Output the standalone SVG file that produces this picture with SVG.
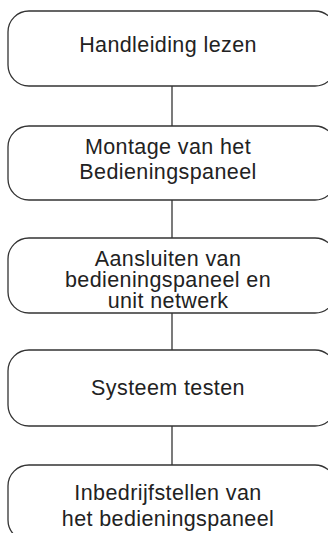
<svg xmlns="http://www.w3.org/2000/svg" width="328" height="533" viewBox="0 0 328 533">
<style>
.box{fill:#fff;stroke:#333;stroke-width:1.3}
.t{font-family:"Liberation Sans",Arial,sans-serif;font-size:21.5px;fill:#222;text-anchor:middle;letter-spacing:0.4px}
.c{stroke:#333;stroke-width:1.3;fill:none}
</style>
<rect width="328" height="533" fill="#fff"/>
<g id="connectors">
<line class="c" x1="172" y1="86" x2="172" y2="126"/>
<line class="c" x1="172" y1="200" x2="172" y2="238"/>
<line class="c" x1="172" y1="313" x2="172" y2="350"/>
<line class="c" x1="172" y1="426" x2="172" y2="465"/>
</g>
<g id="n1">
<rect class="box" x="8" y="11" width="328" height="75" rx="21" ry="21"/>
<text class="t" x="168" y="52">Handleiding lezen</text>
</g>
<g id="n2">
<rect class="box" x="8" y="126" width="328" height="74" rx="21" ry="21"/>
<text class="t" x="168" y="154">Montage van het</text>
<text class="t" x="168" y="179">Bedieningspaneel</text>
</g>
<g id="n3">
<rect class="box" x="8" y="238" width="328" height="75" rx="21" ry="21"/>
<text class="t" x="168" y="266">Aansluiten van</text>
<text class="t" x="168" y="287">bedieningspaneel en</text>
<text class="t" x="168" y="308">unit netwerk</text>
</g>
<g id="n4">
<rect class="box" x="8" y="350" width="328" height="76" rx="21" ry="21"/>
<text class="t" x="168" y="395">Systeem testen</text>
</g>
<g id="n5">
<rect class="box" x="8" y="465" width="328" height="76" rx="21" ry="21"/>
<text class="t" x="168" y="500">Inbedrijfstellen van</text>
<text class="t" x="168" y="526">het bedieningspaneel</text>
</g>
</svg>
